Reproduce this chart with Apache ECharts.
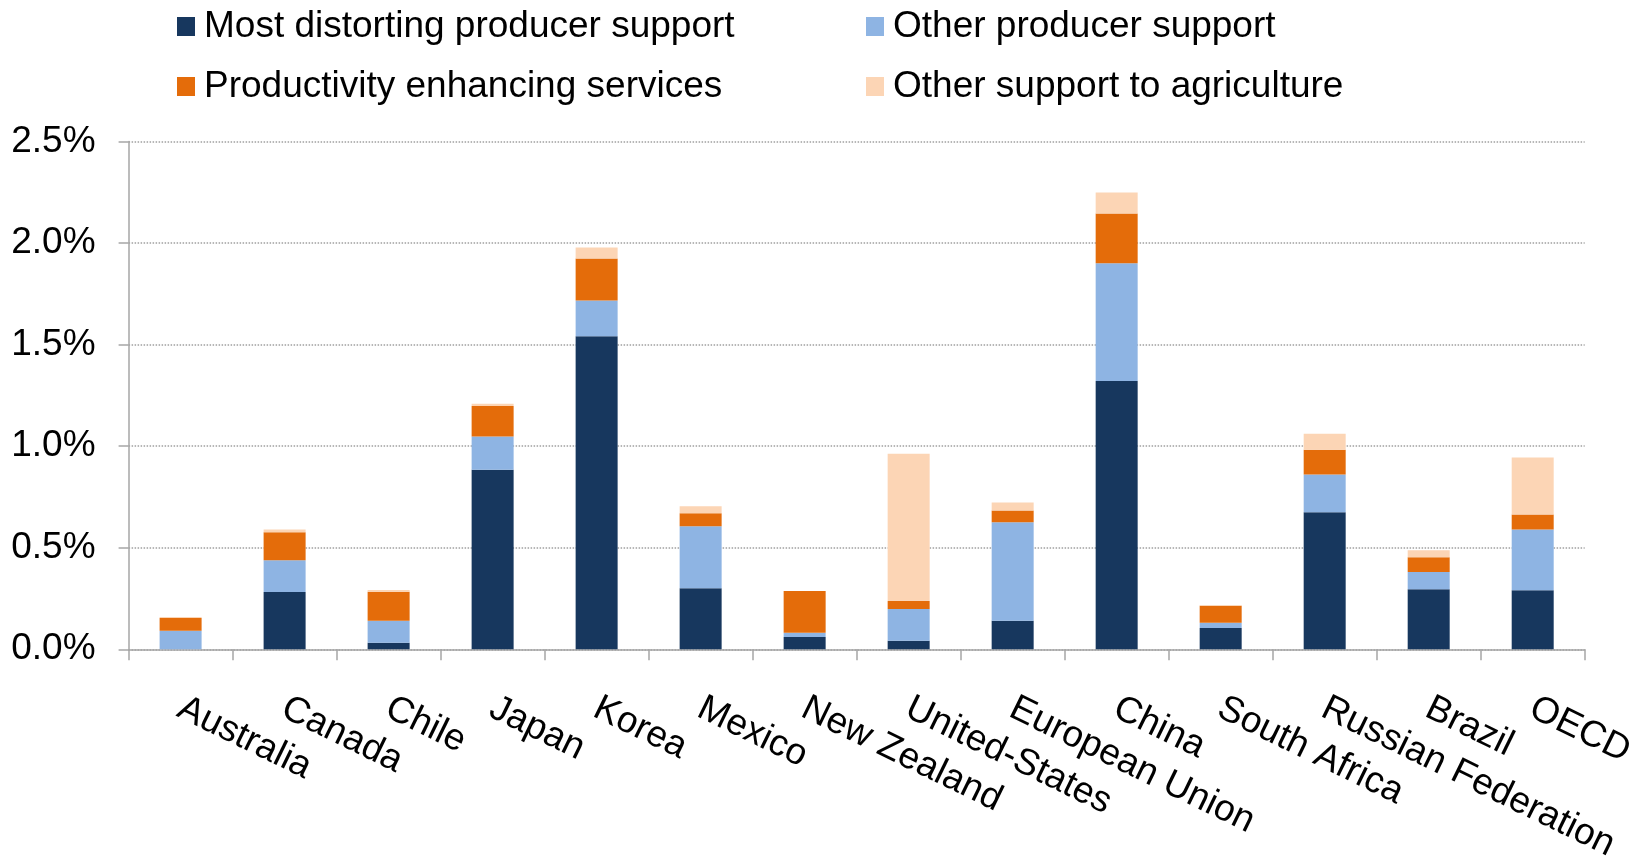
<!DOCTYPE html>
<html>
<head>
<meta charset="utf-8">
<script src="https://cdn.jsdelivr.net/npm/echarts@6/dist/echarts.min.js"></script>
<style>html,body{margin:0;padding:0;background:#fff;}#c{width:1644px;height:865px;}</style>
</head>
<body>
<div id="c"></div>
<script>
const categories = ['Australia','Canada','Chile','Japan','Korea','Mexico','New Zealand','United-States','European Union','China','South Africa','Russian Federation','Brazil','OECD'];
const mostDistorting = [0.000,0.282,0.032,0.884,1.541,0.301,0.061,0.042,0.140,1.320,0.105,0.674,0.296,0.291];
const otherProducer = [0.091,0.156,0.109,0.163,0.176,0.305,0.020,0.156,0.485,0.580,0.025,0.186,0.084,0.299];
const productivity = [0.063,0.138,0.142,0.150,0.207,0.063,0.206,0.040,0.058,0.245,0.084,0.122,0.073,0.074];
const otherAgri = [0.005,0.014,0.009,0.011,0.054,0.035,0.000,0.725,0.040,0.103,0.003,0.079,0.034,0.280];
const yTicks = [0, 0.5, 1.0, 1.5, 2.0, 2.5];
const seriesNames = ['Most distorting producer support','Other producer support','Productivity enhancing services','Other support to agriculture'];
const seriesColors = ['#17375E','#8EB4E3','#E46C0A','#FCD5B5'];
const seriesData = [mostDistorting, otherProducer, productivity, otherAgri];

const FONT = "'Liberation Sans', Arial, sans-serif";
const chart = echarts.init(document.getElementById('c'), null, {renderer:'canvas'});
const legendPos = [
  {left:177, top:8},
  {left:866, top:8},
  {left:177, top:68},
  {left:866, top:68}
];
chart.setOption({
  animation:false,
  backgroundColor:'#ffffff',
  legend: seriesNames.map((n,k)=>({
    data:[n], padding:0,
    left:legendPos[k].left, top:legendPos[k].top,
    itemWidth:18, itemHeight:19, icon:'rect',
    textStyle:{fontFamily:FONT, fontSize:37, color:'#000', padding:[0,0,0,4]}
  })),
  grid:{left:128.6, right:59.3, top:141.4, bottom:213.6, containLabel:false},
  xAxis:{
    type:'category', data:categories,
    axisLine:{show:true, lineStyle:{color:'#A6A6A6', width:1.5}},
    axisTick:{show:true, alignWithLabel:false, length:11, lineStyle:{color:'#A6A6A6', width:1.5}},
    axisLabel:{rotate:-26, interval:0, margin:37, align:'left', verticalAlign:'top',
      padding:[0,0,0,8], fontFamily:FONT, fontSize:37, color:'#000'}
  },
  yAxis:{
    type:'value', min:0, max:2.5, interval:0.5,
    axisLine:{show:true, lineStyle:{color:'#A6A6A6', width:1.5}},
    axisTick:{show:true, inside:false, length:10, lineStyle:{color:'#A6A6A6', width:1.5}},
    axisLabel:{margin:33, fontFamily:FONT, fontSize:37, color:'#000',
      formatter:v=>v.toFixed(1)+'%'},
    splitLine:{show:true, lineStyle:{color:'#A0A0A0', type:'dotted', width:1.5}}
  },
  series: seriesNames.map((n,i)=>({
    name:n, type:'bar', stack:'total', barWidth:42,
    itemStyle:{color:seriesColors[i]},
    data:seriesData[i]
  }))
});
</script>
</body>
</html>
